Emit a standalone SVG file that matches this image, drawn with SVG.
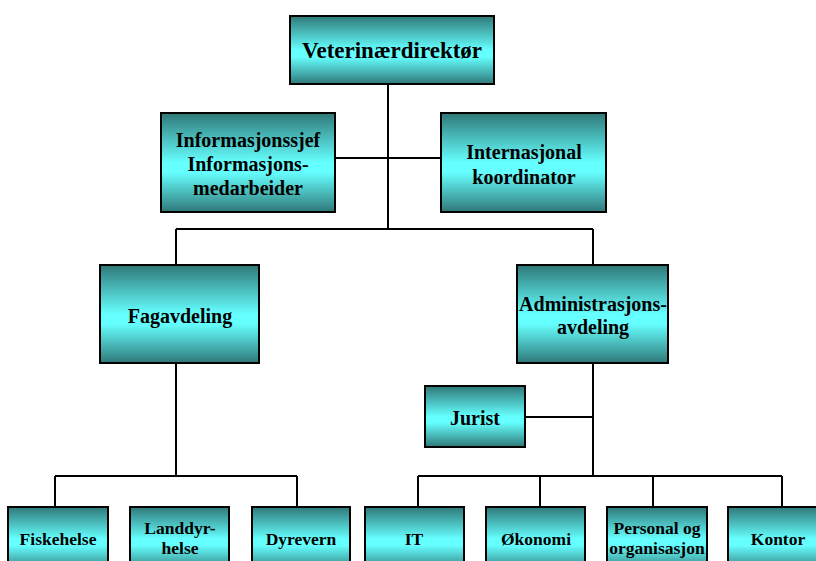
<svg xmlns="http://www.w3.org/2000/svg" width="816" height="561" viewBox="0 0 816 561">
<defs>
<linearGradient id="g" x1="0" y1="0" x2="0" y2="1">
<stop offset="0" stop-color="#2F7878"/>
<stop offset="0.5" stop-color="#66FFFF"/>
<stop offset="0.6" stop-color="#66FFFF"/>
<stop offset="1" stop-color="#2F7878"/>
</linearGradient>
<style>
.b{fill:url(#g);stroke:#000;stroke-width:2}
.t{font-family:"Liberation Serif","Times New Roman",serif;font-weight:bold;fill:#000;text-anchor:middle}
.c{stroke:#000;stroke-width:2;fill:none}
</style>
</defs>
<rect width="816" height="561" fill="#fff"/>
<g id="connectors">
<path class="c" d="M388 84V229M335 158H441M176 229H593M176 229V265M593 229V265"/>
<path class="c" d="M176 363V476M55 476H297M55 476V507M297 476V507"/>
<path class="c" d="M593 363V476M525 417H593M418 476H782M418 476V507M540 476V507M653 476V507M782 476V507"/>
</g>
<g id="n-vet"><rect class="b" x="290" y="16" width="204" height="68"/><text class="t" x="392" y="58" font-size="23">Veterinærdirektør</text></g>
<g id="n-info"><rect class="b" x="161" y="113" width="174" height="99"/><text class="t" font-size="20"><tspan x="248" y="147">Informasjonssjef</tspan><tspan x="248" y="171">Informasjons-</tspan><tspan x="248" y="195">medarbeider</tspan></text></g>
<g id="n-int"><rect class="b" x="441" y="113" width="165" height="99"/><text class="t" font-size="20"><tspan x="524" y="159">Internasjonal</tspan><tspan x="524" y="184">koordinator</tspan></text></g>
<g id="n-fag"><rect class="b" x="100" y="265" width="159" height="98"/><text class="t" x="180" y="323" font-size="20">Fagavdeling</text></g>
<g id="n-adm"><rect class="b" x="517" y="265" width="151" height="98"/><text class="t" font-size="20"><tspan x="593" y="311">Administrasjons-</tspan><tspan x="593" y="334">avdeling</tspan></text></g>
<g id="n-jur"><rect class="b" x="425" y="386" width="100" height="61"/><text class="t" x="475" y="425" font-size="20">Jurist</text></g>
<g id="n-fisk"><rect class="b" x="8" y="507" width="100" height="64"/><text class="t" x="58" y="545" font-size="17.5">Fiskehelse</text></g>
<g id="n-land"><rect class="b" x="130" y="507" width="99" height="64"/><text class="t" font-size="17.5"><tspan x="180" y="534">Landdyr-</tspan><tspan x="180" y="554">helse</tspan></text></g>
<g id="n-dyr"><rect class="b" x="252" y="507" width="98" height="64"/><text class="t" x="301" y="545" font-size="17.5">Dyrevern</text></g>
<g id="n-it"><rect class="b" x="365" y="507" width="99" height="64"/><text class="t" x="414" y="545" font-size="17.5">IT</text></g>
<g id="n-oko"><rect class="b" x="486" y="507" width="99" height="64"/><text class="t" x="536" y="545" font-size="17.5">Økonomi</text></g>
<g id="n-pers"><rect class="b" x="607" y="507" width="100" height="64"/><text class="t" font-size="17.5"><tspan x="657" y="534">Personal og</tspan><tspan x="657" y="554">organisasjon</tspan></text></g>
<g id="n-kon"><rect class="b" x="728" y="507" width="100" height="64"/><text class="t" x="778" y="545" font-size="17.5">Kontor</text></g>
</svg>
